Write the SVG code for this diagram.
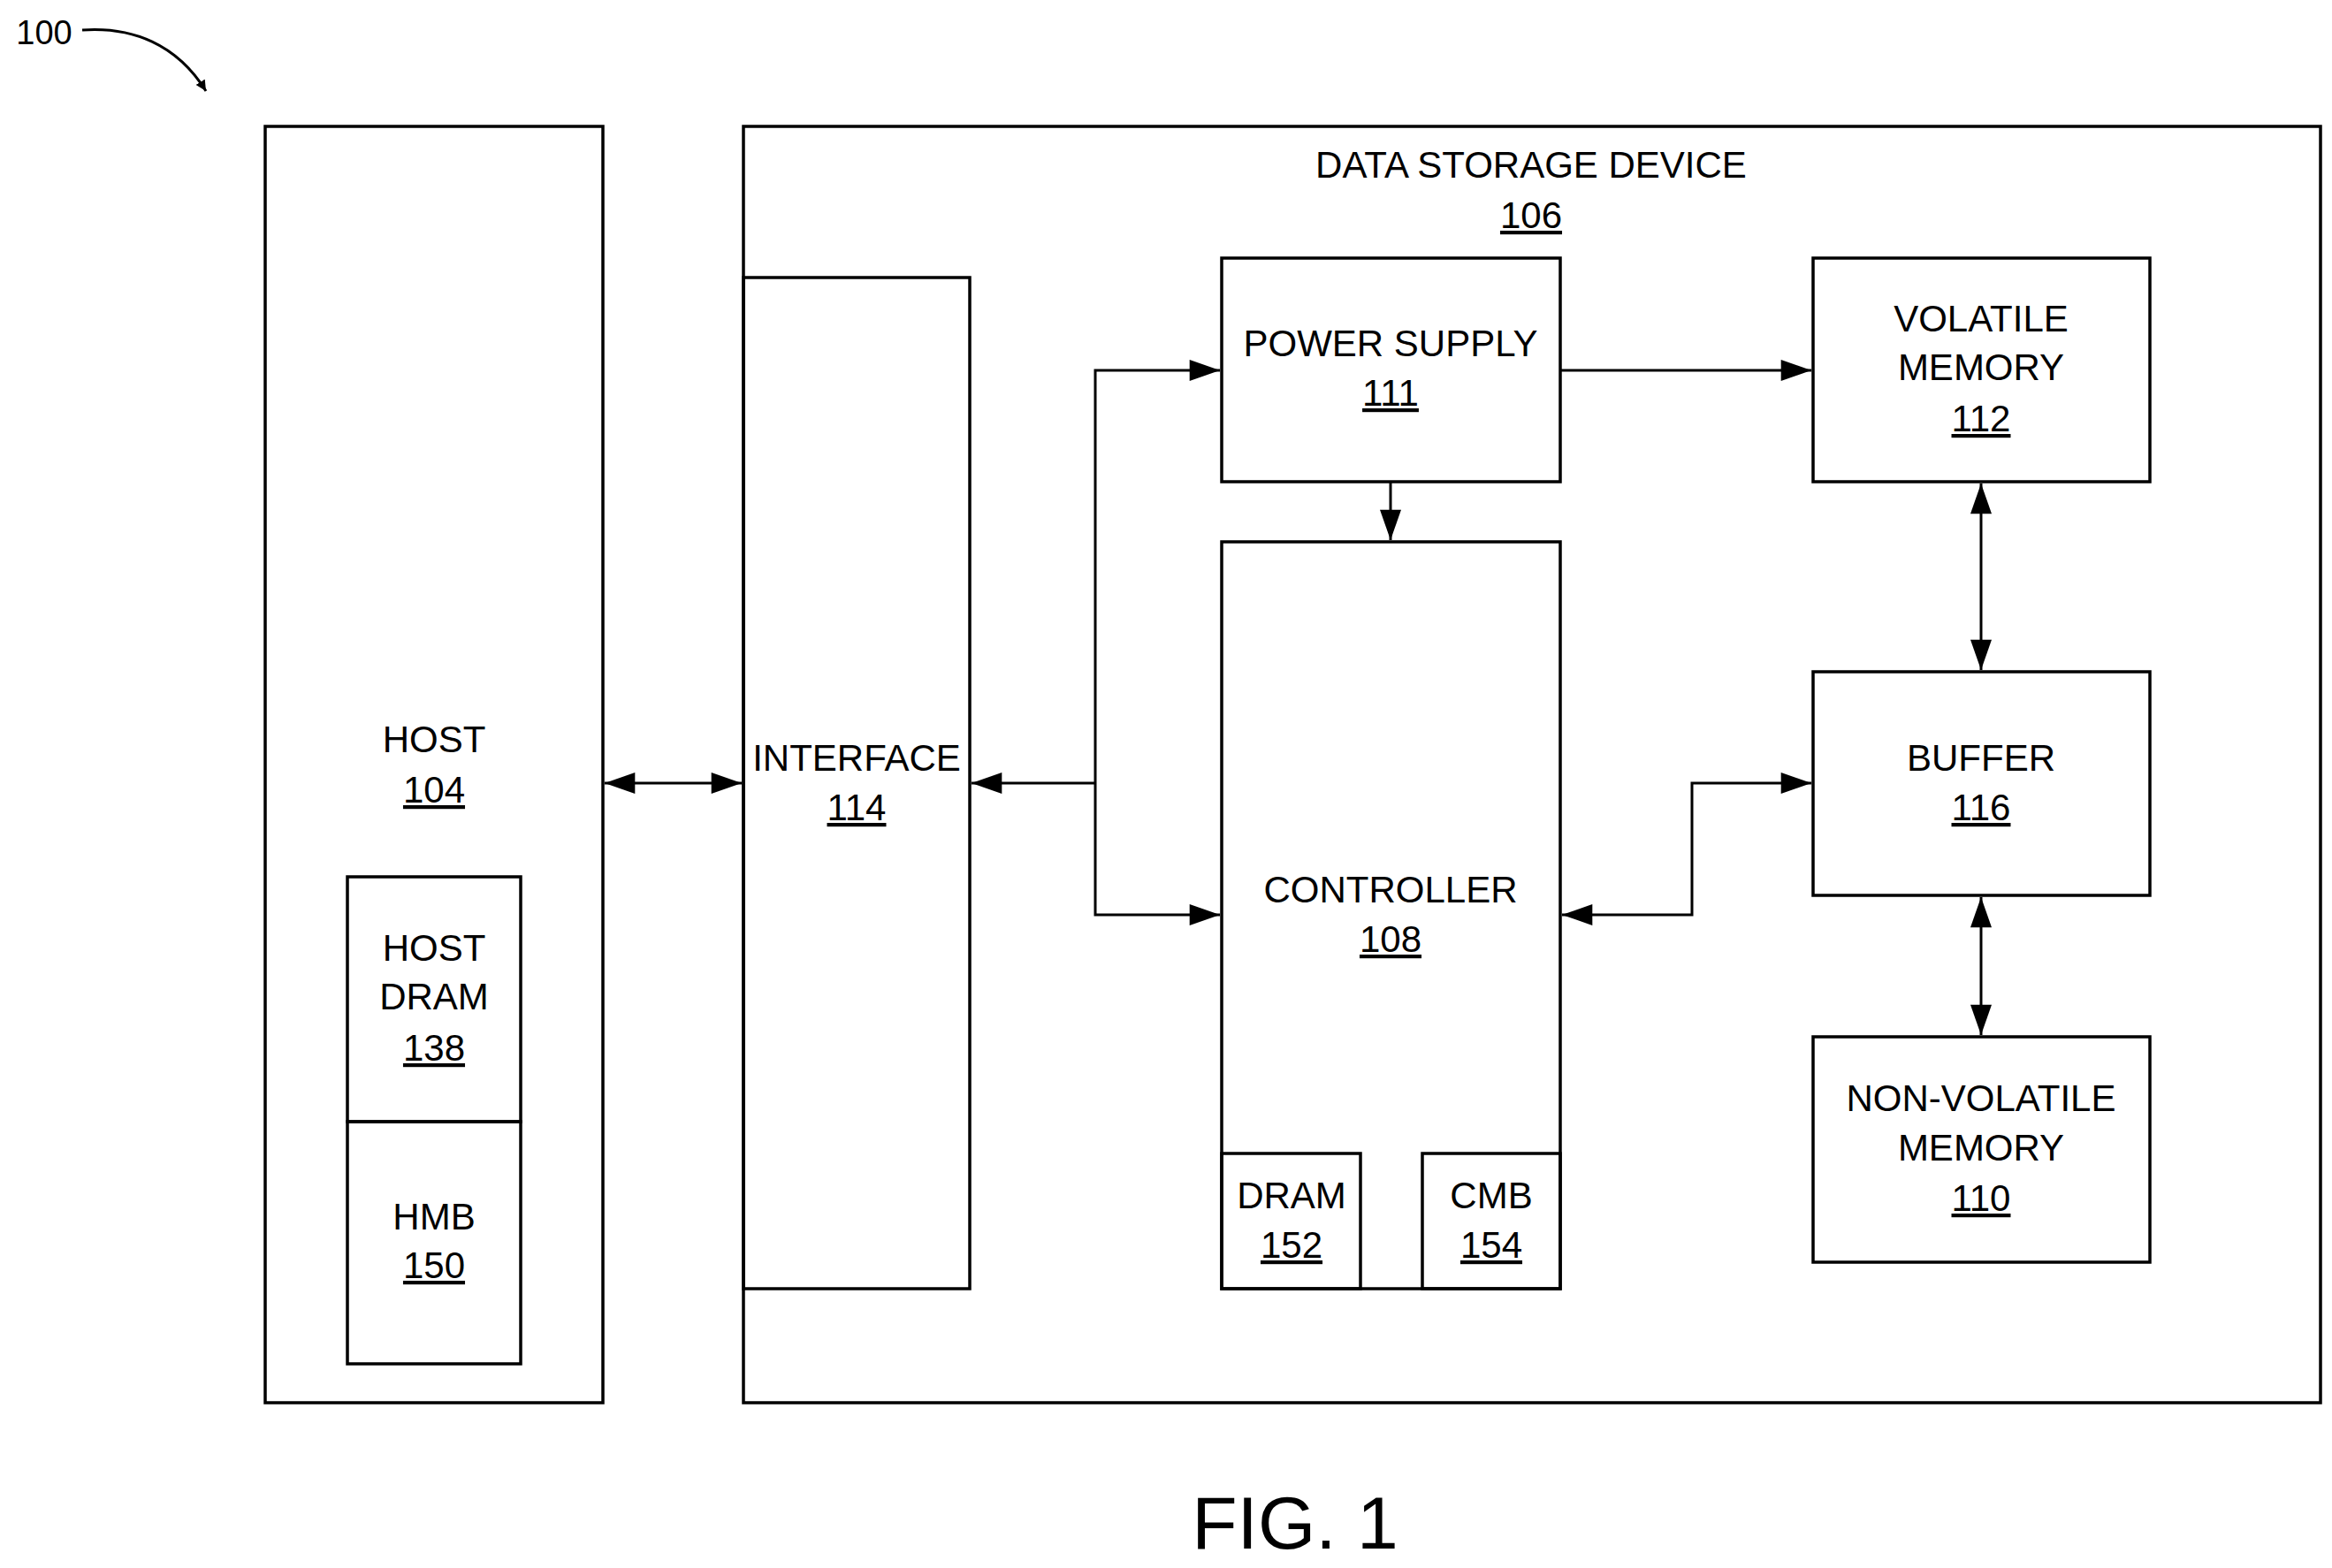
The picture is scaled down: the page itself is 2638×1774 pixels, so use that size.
<svg xmlns="http://www.w3.org/2000/svg" width="2638" height="1774" viewBox="0 0 2638 1774">
<style>
.b{fill:none;stroke:#000;stroke-width:3.5}
.c{fill:none;stroke:#000;stroke-width:3}
text{font-family:"Liberation Sans",Arial,sans-serif;font-size:42px;text-anchor:middle;fill:#000}
.u{text-decoration:underline}
</style>
<defs>
<marker id="a" viewBox="0 0 10 10" refX="10" refY="5" markerWidth="12" markerHeight="12" markerUnits="userSpaceOnUse" orient="auto-start-reverse"><path d="M0,0 L10,5 L0,10 z" transform="scale(1)"/></marker>
<marker id="h" viewBox="0 0 20 14" refX="20" refY="7" markerWidth="36" markerHeight="24" markerUnits="userSpaceOnUse" orient="auto-start-reverse"><path d="M0,0 L20,7 L0,14 z"/></marker>
</defs>
<g id="fig-label">
<text x="50" y="50" style="font-size:38px">100</text>
<path d="M93,34 C150,30 200,50 233,103" class="c" marker-end="url(#a)"/>
<text x="1465" y="1752" style="font-size:84px">FIG. 1</text>
</g>
<g id="host"><rect class="b" x="300" y="143" width="382" height="1444"/><text x="491" y="851">HOST</text><text class="u" x="491" y="908">104</text></g>
<g id="hostdram"><rect class="b" x="393" y="992" width="196" height="277"/><text x="491" y="1087">HOST</text><text x="491" y="1142">DRAM</text><text class="u" x="491" y="1200">138</text></g>
<g id="hmb"><rect class="b" x="393" y="1269" width="196" height="274"/><text x="491" y="1391">HMB</text><text class="u" x="491" y="1446">150</text></g>
<g id="dsd"><rect class="b" x="841" y="143" width="1784" height="1444"/><text x="1732" y="201">DATA STORAGE DEVICE</text><text class="u" x="1732" y="258">106</text></g>
<g id="interface"><rect class="b" x="841" y="314" width="256" height="1144"/><text x="969" y="872">INTERFACE</text><text class="u" x="969" y="928">114</text></g>
<g id="power"><rect class="b" x="1382" y="292" width="383" height="253"/><text x="1573" y="403">POWER SUPPLY</text><text class="u" x="1573" y="459">111</text></g>
<g id="volatile"><rect class="b" x="2051" y="292" width="381" height="253"/><text x="2241" y="375">VOLATILE</text><text x="2241" y="430">MEMORY</text><text class="u" x="2241" y="488">112</text></g>
<g id="controller"><rect class="b" x="1382" y="613" width="383" height="845"/><text x="1573" y="1021">CONTROLLER</text><text class="u" x="1573" y="1077">108</text></g>
<g id="dram"><rect class="b" x="1382" y="1305" width="157" height="153"/><text x="1461" y="1367">DRAM</text><text class="u" x="1461" y="1423">152</text></g>
<g id="cmb"><rect class="b" x="1609" y="1305" width="156" height="153"/><text x="1687" y="1367">CMB</text><text class="u" x="1687" y="1423">154</text></g>
<g id="buffer"><rect class="b" x="2051" y="760" width="381" height="253"/><text x="2241" y="872">BUFFER</text><text class="u" x="2241" y="928">116</text></g>
<g id="nvm"><rect class="b" x="2051" y="1173" width="381" height="255"/><text x="2241" y="1257">NON-VOLATILE</text><text x="2241" y="1313">MEMORY</text><text class="u" x="2241" y="1370">110</text></g>
<g id="connectors" class="c">
<path d="M684,886 H839" marker-start="url(#h)" marker-end="url(#h)"/>
<path d="M1099,886 H1239"  marker-start="url(#h)"/>
<path d="M1380,419 H1239 V1035 H1380" marker-start="url(#h)" marker-end="url(#h)"/>
<path d="M1765,419 H2049" marker-end="url(#h)"/>
<path d="M1573,545 V611" marker-end="url(#h)"/>
<path d="M2241,547 V758" marker-start="url(#h)" marker-end="url(#h)"/>
<path d="M2241,1015 V1171" marker-start="url(#h)" marker-end="url(#h)"/>
<path d="M1767,1035 H1914 V886 H2049" marker-start="url(#h)" marker-end="url(#h)"/>
</g>
</svg>
